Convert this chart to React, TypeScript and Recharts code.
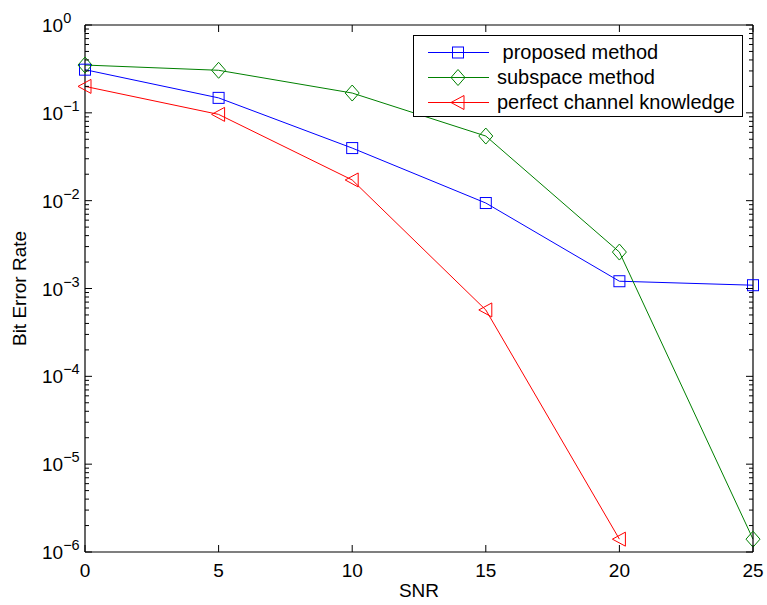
import React from "react";
import { LineChart, Line, XAxis, YAxis, Legend, Label } from "recharts";

const snr = [0, 5, 10, 15, 20, 25];
const proposed = [0.31, 0.148, 0.0397, 0.0094, 0.00121, 0.00109];
const subspace = [0.35, 0.305, 0.168, 0.0544, 0.0026, 1.4e-6];
const perfect = [0.2, 0.096, 0.0172, 0.00057, 1.4e-6, null];

const xTicks = [0, 5, 10, 15, 20, 25];
const decades = [-6, -5, -4, -3, -2, -1, 0];

const FONT = '"Liberation Sans", Arial, Helvetica, sans-serif';
const BLUE = "#0000ff";
const GREEN = "#008000";
const RED = "#ff0000";

// log ticks: majors at each decade, minors at 2..9
const yTicks: number[] = [];
decades.forEach((d) => {
  yTicks.push(Math.pow(10, d));
  if (d < 0) for (let m = 2; m <= 9; m++) yTicks.push(m * Math.pow(10, d));
});

const data = snr.map((s, i) => ({
  snr: s,
  proposed: proposed[i],
  subspace: subspace[i],
  perfect: perfect[i],
}));

const isMajor = (v: number) => {
  const l = Math.log10(v);
  return Math.abs(l - Math.round(l)) < 1e-9;
};

function Square({ cx, cy, color }: any) {
  if (cx == null || cy == null) return null;
  return <rect x={cx - 5.5} y={cy - 5.5} width={11} height={11} fill="none" stroke={color} strokeWidth={1} />;
}

function Diamond({ cx, cy, color }: any) {
  if (cx == null || cy == null) return null;
  return (
    <polygon
      points={`${cx},${cy - 8} ${cx + 7},${cy} ${cx},${cy + 8} ${cx - 7},${cy}`}
      fill="none"
      stroke={color}
      strokeWidth={1}
    />
  );
}

function TriLeft({ cx, cy, color }: any) {
  if (cx == null || cy == null) return null;
  return (
    <polygon
      points={`${cx - 7},${cy} ${cx + 6},${cy - 7} ${cx + 6},${cy + 7}`}
      fill="none"
      stroke={color}
      strokeWidth={1}
    />
  );
}

function LeftTick({ x, y, payload }: any) {
  const v = payload.value;
  const major = isMajor(v);
  const exp = Math.round(Math.log10(v));
  return (
    <g>
      <line x1={x} y1={y} x2={x + (major ? 7 : 4)} y2={y} stroke="#000" strokeWidth={1} />
      {major && (
        <text x={x - 43} y={y + 7} fontFamily={FONT} fontSize={19} fill="#000" textAnchor="start">
          10
          <tspan fontSize={14.5} dy={-9}>
            {exp === 0 ? "0" : "\u2212" + Math.abs(exp)}
          </tspan>
        </text>
      )}
    </g>
  );
}

function RightTick({ x, y, payload }: any) {
  const major = isMajor(payload.value);
  return <line x1={x} y1={y} x2={x - (major ? 7 : 4)} y2={y} stroke="#000" strokeWidth={1} />;
}

function BottomTick({ x, y, payload }: any) {
  return (
    <g>
      <line x1={x} y1={y} x2={x} y2={y - 7} stroke="#000" strokeWidth={1} />
      <text x={x} y={y + 25} fontFamily={FONT} fontSize={19} fill="#000" textAnchor="middle">
        {payload.value}
      </text>
    </g>
  );
}

function TopTick({ x, y }: any) {
  return <line x1={x} y1={y} x2={x} y2={y + 7} stroke="#000" strokeWidth={1} />;
}

const legendRows = [
  { name: " proposed method", color: BLUE, Mark: Square },
  { name: "subspace method", color: GREEN, Mark: Diamond },
  { name: "perfect channel knowledge", color: RED, Mark: TriLeft },
];

function LegendBox() {
  return (
    <div
      style={{
        border: "1px solid #000",
        background: "#fff",
        width: 330,
        height: 82,
        boxSizing: "border-box",
        paddingTop: 4,
        fontFamily: FONT,
        fontSize: 20,
      }}
    >
      {legendRows.map(({ name, color, Mark }) => (
        <div key={name} style={{ display: "flex", alignItems: "center", height: 25 }}>
          <svg width={83} height={25} style={{ display: "block" }}>
            <line x1={14} y1={12.5} x2={75} y2={12.5} stroke={color} strokeWidth={1} />
            <Mark cx={44} cy={12.5} color={color} />
          </svg>
          <span style={{ whiteSpace: "pre", lineHeight: "25px" }}>{name}</span>
        </div>
      ))}
    </div>
  );
}

export default function App() {
  return (
    <div style={{ position: "absolute", left: 0, top: 0, width: 767, height: 605, overflow: "hidden", background: "#fff" }}>
      <LineChart
        width={767}
        height={605}
        data={data}
        margin={{ top: 20, right: 9, bottom: 13, left: 25 }}
      >
        <XAxis
          xAxisId="bottom"
          dataKey="snr"
          type="number"
          domain={[0, 25]}
          ticks={xTicks}
          interval={0}
          height={40}
          tickSize={0}
          tickMargin={0}
          tickLine={false}
          axisLine={{ stroke: "#000", strokeWidth: 1.2 }}
          tick={<BottomTick />}
        >
          <Label value="SNR" position="bottom" offset={-8} style={{ fontFamily: FONT, fontSize: 19, fill: "#000" }} />
        </XAxis>
        <XAxis
          xAxisId="top"
          orientation="top"
          dataKey="snr"
          type="number"
          domain={[0, 25]}
          ticks={xTicks}
          interval={0}
          height={5}
          tickSize={0}
          tickMargin={0}
          tickLine={false}
          axisLine={{ stroke: "#000", strokeWidth: 1.2 }}
          tick={<TopTick />}
        />
        <YAxis
          yAxisId="left"
          type="number"
          scale="log"
          domain={[1e-6, 1]}
          allowDataOverflow
          ticks={yTicks}
          interval={0}
          width={60}
          tickSize={0}
          tickMargin={0}
          tickLine={false}
          axisLine={{ stroke: "#000", strokeWidth: 1.2 }}
          tick={<LeftTick />}
        >
          <Label
            value="Bit Error Rate"
            angle={-90}
            position="insideLeft"
            offset={-6}
            style={{ fontFamily: FONT, fontSize: 19, fill: "#000", textAnchor: "middle" }}
          />
        </YAxis>
        <YAxis
          yAxisId="right"
          orientation="right"
          type="number"
          scale="log"
          domain={[1e-6, 1]}
          allowDataOverflow
          ticks={yTicks}
          interval={0}
          width={5}
          tickSize={0}
          tickMargin={0}
          tickLine={false}
          axisLine={{ stroke: "#000", strokeWidth: 1.2 }}
          tick={<RightTick />}
        />
        <Legend
          layout="vertical"
          align="center"
          verticalAlign="middle"
          wrapperStyle={{ top: 35, left: 413, width: 330 }}
          content={() => <LegendBox />}
        />
        <Line
          xAxisId="bottom"
          yAxisId="left"
          dataKey="proposed"
          stroke={BLUE}
          strokeWidth={1}
          dot={(p: any) => <Square key={p.index} cx={p.cx} cy={p.cy} color={BLUE} />}
          isAnimationActive={false}
        />
        <Line
          xAxisId="bottom"
          yAxisId="left"
          dataKey="subspace"
          stroke={GREEN}
          strokeWidth={1}
          dot={(p: any) => <Diamond key={p.index} cx={p.cx} cy={p.cy} color={GREEN} />}
          isAnimationActive={false}
        />
        <Line
          xAxisId="bottom"
          yAxisId="left"
          dataKey="perfect"
          stroke={RED}
          strokeWidth={1}
          dot={(p: any) => <TriLeft key={p.index} cx={p.cx} cy={p.cy} color={RED} />}
          isAnimationActive={false}
        />
      </LineChart>
    </div>
  );
}
